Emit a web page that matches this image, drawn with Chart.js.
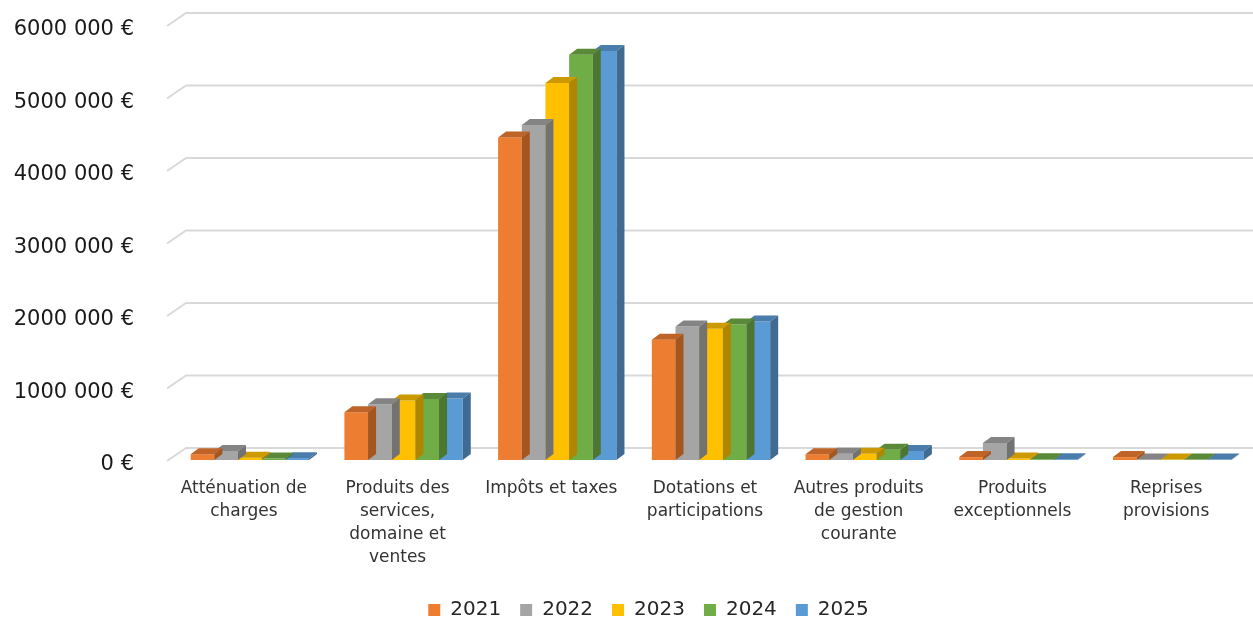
<!DOCTYPE html>
<html>
<head>
<meta charset="utf-8">
<script src="https://cdn.jsdelivr.net/npm/chart.js@4.4.1/dist/chart.umd.min.js"></script>
<style>
  html, body { margin: 0; padding: 0; background: #fff; }
  #wrap { width: 1253px; height: 620px; }
</style>
</head>
<body>
<div id="wrap"><canvas id="recettes"></canvas></div>
<script>
// categories and values
var categories = [
  ["Atténuation de", "charges"],
  ["Produits des", "services,", "domaine et", "ventes"],
  ["Impôts et taxes"],
  ["Dotations et", "participations"],
  ["Autres produits", "de gestion", "courante"],
  ["Produits", "exceptionnels"],
  ["Reprises", "provisions"]
];
var years = ["2021", "2022", "2023", "2024", "2025"];
var v2021 = [80000, 660000, 4450000, 1660000, 80000, 40000, 40000];
var v2022 = [125000, 770000, 4620000, 1840000, 85000, 235000, 8000];
var v2023 = [30000, 820000, 5200000, 1810000, 85000, 20000, 6000];
var v2024 = [20000, 840000, 5590000, 1870000, 140000, 10000, 6000];
var v2025 = [25000, 850000, 5640000, 1910000, 125000, 10000, 6000];
var yTicks = [0, 1000000, 2000000, 3000000, 4000000, 5000000, 6000000];

var front = ["#ED7D31", "#A5A5A5", "#FFC000", "#70AD47", "#5B9BD5"];
var tops = ["#BE6428", "#848484", "#CC9A00", "#5A8A39", "#4A7DAB"];
var sides = ["#A4561F", "#727272", "#B08500", "#4D7731", "#3F6A92"];

var DX = 8, DY = 6;

function euro(v) {
  if (v < 1000) return v + " €";
  return Math.floor(v / 1000) + " " + String(v % 1000).padStart(3, "0") + " €";
}

var depth3d = {
  id: "depth3d",
  afterLayout: function(chart) {
    // excel puts the legend a bit right of the canvas centre
    chart.legend.left += 24;
    chart.legend.right += 24;
  },
  beforeDatasetsDraw: function(chart) {
    var ctx = chart.ctx, area = chart.chartArea, ys = chart.scales.y;
    ctx.save();
    ctx.strokeStyle = "#D9D9D9";
    ctx.lineWidth = 2;
    yTicks.forEach(function(t) {
      var yf = ys.getPixelForValue(t) + 1;
      ctx.beginPath();
      ctx.moveTo(area.left - 6, yf);
      ctx.lineTo(area.left + 13, yf - 13);
      ctx.lineTo(chart.width, yf - 13);
      ctx.stroke();
    });
    ctx.restore();
  },
  afterDatasetDraw: function(chart, args) {
    var ctx = chart.ctx, i = args.index;
    ctx.save();
    args.meta.data.forEach(function(bar) {
      var p = bar.getProps(["x", "y", "base", "width"], true);
      var l = p.x - p.width / 2, r = p.x + p.width / 2;
      ctx.fillStyle = tops[i];
      ctx.beginPath();
      ctx.moveTo(l, p.y);
      ctx.lineTo(l + DX, p.y - DY);
      ctx.lineTo(r + DX, p.y - DY);
      ctx.lineTo(r, p.y);
      ctx.closePath();
      ctx.fill();
      ctx.fillStyle = sides[i];
      ctx.beginPath();
      ctx.moveTo(r, p.y);
      ctx.lineTo(r + DX, p.y - DY);
      ctx.lineTo(r + DX, p.base - DY);
      ctx.lineTo(r, p.base);
      ctx.closePath();
      ctx.fill();
    });
    ctx.restore();
  }
};

var series = [v2021, v2022, v2023, v2024, v2025];
var ctx = document.getElementById("recettes").getContext("2d");
var chart = new Chart(ctx, {
  type: "bar",
  data: {
    labels: categories,
    datasets: years.map(function(y, i) {
      return {
        label: y,
        data: series[i],
        backgroundColor: front[i],
        borderWidth: 0,
        categoryPercentage: 0.77,
        barPercentage: 1.0
      };
    })
  },
  options: {
    responsive: true,
    maintainAspectRatio: false,
    animation: false,
    layout: { padding: { top: 25, right: 4, bottom: -10, left: 0 } },
    scales: {
      x: {
        grid: { display: false },
        border: { display: false },
        ticks: {
          color: "#333",
          font: { family: "DejaVu Sans", size: 17, lineHeight: 1.35 },
          padding: 9,
          labelOffset: -6,
          maxRotation: 0,
          autoSkip: false
        },
        afterFit: function(s) { s.height = 121; }
      },
      y: {
        min: 0,
        max: 6000000,
        grid: { display: false },
        border: { display: false },
        ticks: {
          stepSize: 1000000,
          color: "#1a1a1a",
          font: { family: "DejaVu Sans", size: 21 },
          padding: 31,
          labelOffset: 5,
          callback: function(v) { return euro(v); }
        },
        afterFit: function(s) {
          s.width = 173;
          s.paddingTop = 0;
          s.paddingBottom = 0;
        }
      }
    },
    plugins: {
      tooltip: { enabled: false },
      legend: {
        position: "bottom",
        labels: {
          color: "#262626",
          font: { family: "DejaVu Sans", size: 20 },
          boxWidth: 12,
          boxHeight: 12,
          padding: 19
        }
      }
    }
  },
  plugins: [depth3d]
});
</script>
</body>
</html>
